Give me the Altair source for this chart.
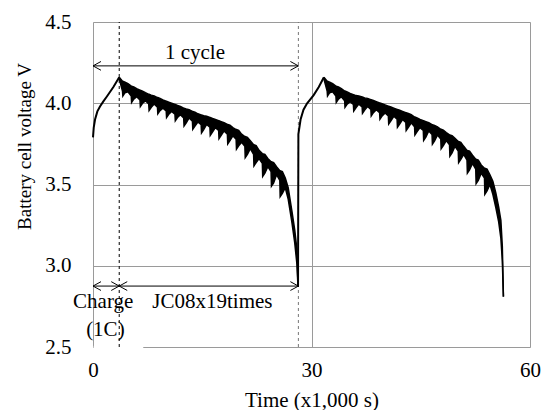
import altair as alt
import pandas as pd

# ---- measured data (time in ks, voltage in V) ----
charge1_t = [0, 0.1, 0.28, 0.6, 0.96, 1.4, 1.88, 2.8, 3.6]
charge1_v = [3.79, 3.85, 3.90, 3.95, 3.98, 4.01, 4.04, 4.10, 4.16]
charge2_t = [28.15, 28.2, 28.5, 28.9, 29.4, 30.3, 31.0, 31.7]
charge2_v = [2.87, 3.81, 3.90, 3.96, 4.00, 4.05, 4.10, 4.16]

# first discharge (JC08 x19): upper and lower edge of the oscillating trace
d1_t = [3.6, 4.05, 4.1, 4.4, 4.8, 5.25, 5.3, 5.6, 6.0, 6.45, 6.5, 6.8,
        7.2, 7.65, 7.7, 8.0, 8.4, 8.85, 8.9, 9.2, 9.6, 10.05, 10.1, 10.4,
        10.8, 11.25, 11.3, 11.6, 12.0, 12.45, 12.5, 12.8, 13.2, 13.65, 13.7, 14.0,
        14.4, 14.85, 14.9, 15.2, 15.6, 16.05, 16.1, 16.4, 16.8, 17.25, 17.3, 17.6,
        18.0, 18.45, 18.5, 18.8, 19.2, 19.65, 19.7, 20.0, 20.4, 20.85, 20.9, 21.2,
        21.6, 22.05, 22.1, 22.4, 22.8, 23.25, 23.3, 23.6, 24.0, 24.45, 24.5, 24.8,
        25.2, 25.65, 25.7, 26.0,
        26.4, 26.8, 27.3, 27.7, 28.0, 28.15]
d1_hi = [4.16, 4.135, 4.135, 4.13, 4.12, 4.105, 4.105, 4.10, 4.09, 4.08, 4.08, 4.075,
         4.065, 4.055, 4.055, 4.05, 4.045, 4.035, 4.035, 4.03, 4.02, 4.012, 4.012, 4.007,
         4.0, 3.992, 3.992, 3.987, 3.98, 3.97, 3.97, 3.965, 3.96, 3.95, 3.95, 3.945,
         3.935, 3.928, 3.928, 3.923, 3.92, 3.912, 3.912, 3.907, 3.90, 3.892, 3.892, 3.887,
         3.88, 3.87, 3.87, 3.865, 3.85, 3.838, 3.838, 3.833, 3.81, 3.795, 3.795, 3.79,
         3.77, 3.745, 3.745, 3.74, 3.71, 3.69, 3.69, 3.685, 3.66, 3.64, 3.64, 3.635,
         3.61, 3.585, 3.585, 3.58,
         3.54, 3.48, 3.34, 3.22, 3.10, 2.87]
d1_lo = [4.15, 4.075, 4.045, 4.065, 4.07, 4.045, 4.005, 4.025, 4.04, 4.02, 3.98, 4.0,
         4.015, 3.995, 3.955, 3.975, 3.995, 3.975, 3.935, 3.955, 3.97, 3.952, 3.912, 3.932,
         3.95, 3.932, 3.892, 3.912, 3.93, 3.91, 3.86, 3.88, 3.91, 3.89, 3.84, 3.86,
         3.885, 3.868, 3.818, 3.838, 3.87, 3.852, 3.802, 3.822, 3.85, 3.832, 3.782, 3.802,
         3.83, 3.81, 3.75, 3.77, 3.80, 3.778, 3.718, 3.738, 3.76, 3.735, 3.665, 3.685,
         3.72, 3.685, 3.615, 3.635, 3.66, 3.63, 3.55, 3.57, 3.61, 3.58, 3.49, 3.51,
         3.56, 3.525, 3.425, 3.445,
         3.48, 3.41, 3.27, 3.14, 3.01, 2.87]

# second discharge (JC08 x19)
d2_t = [31.7, 32.15, 32.2, 32.5, 32.9, 33.35, 33.4, 33.7, 34.1, 34.55, 34.6, 34.9,
        35.3, 35.75, 35.8, 36.1, 36.5, 36.95, 37.0, 37.3, 37.7, 38.15, 38.2, 38.5,
        38.9, 39.35, 39.4, 39.7, 40.1, 40.55, 40.6, 40.9, 41.3, 41.75, 41.8, 42.1,
        42.5, 42.95, 43.0, 43.3, 43.7, 44.15, 44.2, 44.5, 44.9, 45.35, 45.4, 45.7,
        46.1, 46.55, 46.6, 46.9, 47.3, 47.75, 47.8, 48.1, 48.5, 48.95, 49.0, 49.3,
        49.7, 50.15, 50.2, 50.5, 50.9, 51.35, 51.4, 51.7, 52.1, 52.55, 52.6, 52.9,
        53.3, 53.75, 53.8, 54.1,
        54.5, 54.9, 55.3, 55.7, 56.0, 56.2, 56.35]
d2_hi = [4.16, 4.135, 4.135, 4.13, 4.12, 4.105, 4.105, 4.10, 4.09, 4.075, 4.075, 4.07,
         4.06, 4.052, 4.052, 4.047, 4.045, 4.038, 4.038, 4.033, 4.03, 4.022, 4.022, 4.017,
         4.01, 4.002, 4.002, 3.997, 3.99, 3.982, 3.982, 3.977, 3.97, 3.962, 3.962, 3.957,
         3.95, 3.942, 3.942, 3.937, 3.93, 3.915, 3.915, 3.91, 3.90, 3.892, 3.892, 3.887,
         3.88, 3.868, 3.868, 3.863, 3.855, 3.84, 3.84, 3.835, 3.82, 3.805, 3.805, 3.80,
         3.785, 3.765, 3.765, 3.76, 3.735, 3.71, 3.71, 3.705, 3.68, 3.655, 3.655, 3.65,
         3.62, 3.60, 3.60, 3.595,
         3.56, 3.52, 3.45, 3.36, 3.28, 3.12, 2.81]
d2_lo = [4.15, 4.075, 4.045, 4.065, 4.07, 4.045, 4.005, 4.025, 4.04, 4.015, 3.975, 3.995,
         4.01, 3.992, 3.952, 3.972, 3.995, 3.978, 3.938, 3.958, 3.98, 3.962, 3.922, 3.942,
         3.96, 3.942, 3.902, 3.922, 3.94, 3.922, 3.872, 3.892, 3.92, 3.902, 3.852, 3.872,
         3.90, 3.882, 3.832, 3.852, 3.88, 3.855, 3.805, 3.825, 3.85, 3.832, 3.772, 3.792,
         3.83, 3.808, 3.748, 3.768, 3.805, 3.78, 3.72, 3.74, 3.77, 3.745, 3.675, 3.695,
         3.735, 3.705, 3.635, 3.655, 3.685, 3.65, 3.57, 3.59, 3.63, 3.595, 3.505, 3.525,
         3.57, 3.54, 3.44, 3.46,
         3.50, 3.44, 3.36, 3.27, 3.17, 3.03, 2.81]

# annotation values
marker_t = [3.6, 28.2]
arrow_t1 = [0, 0, 3.6]
arrow_t2 = [28.2, 3.6, 28.2]
arrow_v = [4.23, 2.875, 2.875]
label_text = ["1 cycle", "Charge", "(1C)", "JC08x19times"]
label_t = [14.0, 1.4, 1.7, 16.4]
label_v = [4.275, 2.74, 2.565, 2.74]

gray = "#9a9a9a"
FONT = "Liberation Serif"

xs = alt.Scale(domain=[0, 60], nice=False, zero=False)
ys = alt.Scale(domain=[2.5, 4.5], nice=False, zero=False)

charge = pd.DataFrame({
    "t": charge1_t + charge2_t,
    "v": charge1_v + charge2_v,
    "seg": ["c1"] * len(charge1_t) + ["c2"] * len(charge2_t),
})
dis = pd.DataFrame({
    "t": d1_t + d2_t,
    "hi": d1_hi + d2_hi,
    "lo": d1_lo + d2_lo,
    "seg": ["d1"] * len(d1_t) + ["d2"] * len(d2_t),
})
markers = pd.DataFrame({"t": marker_t, "c": ["black", "#777777"], "y1": [2.5, 2.5], "y2": [4.5, 4.5]})
arrows = pd.DataFrame({"t": arrow_t1, "t2": arrow_t2, "v": arrow_v})
heads_l = pd.DataFrame({"t": arrow_t1, "v": arrow_v})
heads_r = pd.DataFrame({"t": arrow_t2, "v": arrow_v})
labels = pd.DataFrame({"text": label_text, "t": label_t, "v": label_v})
cover = pd.DataFrame({"t": [0.1], "t2": [6.9], "v": [2.5]})

x_axis = alt.Axis(values=[0, 30, 60], grid=True, gridColor=gray, gridWidth=1, ticks=False,
                  domain=False, labelFontSize=21, labelPadding=12, labelColor="black",
                  labelFont=FONT, labelFlush=False, title="Time (x1,000 s)", titleFontSize=21,
                  titleFontWeight="normal", titlePadding=9, titleColor="black", titleFont=FONT)
y_axis = alt.Axis(values=[2.5, 3.0, 3.5, 4.0, 4.5], format=".1f", grid=True, gridColor=gray,
                  gridWidth=1, ticks=False, domain=False, labelFontSize=21, labelPadding=22,
                  labelColor="black", labelFont=FONT, title="Battery cell voltage  V",
                  titleFontSize=19, titleFontWeight="normal", titleColor="black",
                  titleFont=FONT, titleX=-69, titleY=124, titleBaseline="middle",
                  titleAlign="center")

cover_layer = alt.Chart(cover).mark_rule(color="white", strokeWidth=2.5).encode(
    x=alt.X("t:Q", scale=xs, axis=x_axis),
    x2="t2:Q",
    y=alt.Y("v:Q", scale=ys, axis=y_axis),
)

marker_layer = alt.Chart(markers).mark_rule(strokeWidth=1, strokeDash=[3, 3]).encode(
    x=alt.X("t:Q", scale=xs),
    y=alt.Y("y1:Q", scale=ys),
    y2="y2:Q",
    color=alt.Color("c:N", scale=None),
)

charge_layer = alt.Chart(charge).mark_line(color="black", strokeWidth=2).encode(
    x=alt.X("t:Q", scale=xs),
    y=alt.Y("v:Q", scale=ys),
    detail="seg:N",
)

band_layer = alt.Chart(dis).mark_area(color="black", opacity=1).encode(
    x=alt.X("t:Q", scale=xs),
    y=alt.Y("hi:Q", scale=ys),
    y2="lo:Q",
    detail="seg:N",
)
hi_layer = alt.Chart(dis).mark_line(color="black", strokeWidth=1.5).encode(
    x=alt.X("t:Q", scale=xs),
    y=alt.Y("hi:Q", scale=ys),
    detail="seg:N",
)
lo_layer = alt.Chart(dis).mark_line(color="black", strokeWidth=1.5).encode(
    x=alt.X("t:Q", scale=xs),
    y=alt.Y("lo:Q", scale=ys),
    detail="seg:N",
)

arrow_layer = alt.Chart(arrows).mark_rule(color="black", strokeWidth=1).encode(
    x=alt.X("t:Q", scale=xs),
    x2="t2:Q",
    y=alt.Y("v:Q", scale=ys),
)
head_l_layer = alt.Chart(heads_l).mark_point(
    shape="M2,-1.1L0,0L2,1.1", filled=False, size=64, color="black", strokeWidth=1, opacity=1
).encode(x=alt.X("t:Q", scale=xs), y=alt.Y("v:Q", scale=ys))
head_r_layer = alt.Chart(heads_r).mark_point(
    shape="M-2,-1.1L0,0L-2,1.1", filled=False, size=64, color="black", strokeWidth=1, opacity=1
).encode(x=alt.X("t:Q", scale=xs), y=alt.Y("v:Q", scale=ys))

text_layer = alt.Chart(labels).mark_text(
    font=FONT, fontSize=21, color="black", align="center", baseline="alphabetic"
).encode(x=alt.X("t:Q", scale=xs), y=alt.Y("v:Q", scale=ys), text="text:N")

chart = alt.layer(
    cover_layer, marker_layer, charge_layer, band_layer, hi_layer, lo_layer,
    arrow_layer, head_l_layer, head_r_layer, text_layer,
).properties(
    width=437, height=325, autosize="none",
    padding={"left": 93, "top": 22, "right": 12, "bottom": 63},
    background="white",
).configure_view(stroke=gray, strokeWidth=1).configure(font=FONT)

chart.save("out.html", embed_options={"renderer": "svg", "actions": False})
